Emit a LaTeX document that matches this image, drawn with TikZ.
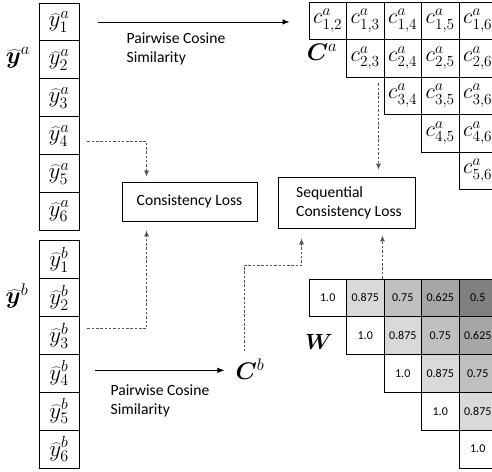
\documentclass[tikz,border=0pt]{standalone}
\usepackage{fix-cm}
\usepackage{bm}
\usepackage{fontspec}
\setmainfont{Carlito}
\usetikzlibrary{calc,arrows.meta}
\definecolor{w0}{HTML}{FFFFFF}
\definecolor{w1}{HTML}{D9D9D9}
\definecolor{w2}{HTML}{BFBFBF}
\definecolor{w3}{HTML}{A6A6A6}
\definecolor{w4}{HTML}{808080}
\definecolor{dashgray}{HTML}{555555}
\newcommand{\wval}[1]{\ifcase#1 1.0\or 0.875\or 0.75\or 0.625\or 0.5\fi}
\begin{document}
\begin{tikzpicture}[x=1pt,y=-1pt,
  ycell/.style={draw,line width=0.9pt,minimum width=40pt,minimum height=37.9pt,inner sep=0pt,font=\fontsize{23}{23}\selectfont},
  ccell/.style={draw,line width=0.9pt,minimum width=37.5pt,minimum height=37.5pt,inner sep=0pt,font=\fontsize{22}{22}\selectfont},
  wcell/.style={draw,line width=0.9pt,minimum width=37.5pt,minimum height=37.8pt,inner sep=0pt,font=\fontsize{12}{12}\selectfont},
  lossbox/.style={draw,line width=0.9pt,inner sep=0pt},
  biglabel/.style={inner sep=1pt,font=\fontsize{24}{24}\selectfont},
  plabel/.style={align=left,inner sep=0pt,anchor=west,font=\fontsize{15.6}{19}\selectfont},
  dasharr/.style={draw=dashgray,line width=0.75pt,dash pattern=on 2.5pt off 1.8pt,-{Latex[length=6pt,width=5pt]}},
  solarr/.style={draw=black,line width=0.8pt,-{Latex[length=7pt,width=5.5pt]}}
]
\useasboundingbox (0,0) rectangle (492,471);
\clip (0,0) rectangle (492,471);
\fill[white] (0,0) rectangle (492,471);

% y^a and y^b columns
\foreach \i in {1,...,6}{
  \node[ycell] (ya\i) at (59,{3+37.9*(\i-0.5)}) {$\widehat{y}^{a}_{\i}$};
  \node[ycell] (yb\i) at (59,{240.7+37.9*(\i-0.5)}) {$\widehat{y}^{b}_{\i}$};
}
\node[biglabel] (lya) at (18,58) {$\bm{\widehat{y}}^{a}$};
\node[biglabel] (lyb) at (17,296) {$\bm{\widehat{y}}^{b}$};

% C^a matrix
\foreach \i in {1,...,5}{
  \pgfmathtruncatemacro\js{\i+1}
  \foreach \j in {\js,...,6}{
    \node[ccell] (ca\i\j) at ({309+37.5*(\j-2)+18.75},{2+37.5*(\i-1)+18.75}) {$c^{a}_{\i,\j}$};
  }
}
\node[biglabel] (Ca) at (322,52) {$\bm{C}^{a}$};

% W matrix
\foreach \r in {1,...,5}{
  \foreach \k in {\r,...,5}{
    \pgfmathtruncatemacro\d{\k-\r}
    \node[wcell,fill=w\d] (w\r\k) at ({309+37.5*(\k-1)+18.75},{279+37.8*(\r-1)+18.9}) {\wval{\d}};
  }
}
\node[biglabel,font=\fontsize{22}{22}\selectfont] (W) at (319,342) {$\bm{W}$};

% C^b label
\node[biglabel] (Cb) at (250,369) {$\bm{C}^{b}$};

% loss boxes
\node[lossbox,minimum width=135pt,minimum height=39pt,font=\fontsize{15.6}{19}\selectfont] (cl) at (189.5,201.5) {Consistency Loss};
\node[lossbox,minimum width=137pt,minimum height=51pt] (seq) at (346.5,202.5) {};
\node[plabel] (seqtxt) at (296,202.5) {Sequential\\Consistency Loss};

% pairwise labels
\node[plabel] (pw1) at (126.5,48.5) {Pairwise Cosine\\Similarity};
\node[plabel] (pw2) at (110.5,401) {Pairwise Cosine\\Similarity};

% solid arrows
\draw[solarr] ($(ya1.east)+(19,0)$) -- ($(ya1.east -| ca12.west)+(-19,0)$);
\coordinate (b0) at ($(yb4.east)+(16,-3)$);
\draw[solarr] (b0) -- ($(b0 -| Cb.west)+(-10,0)$);

% dashed arrows
\draw[dasharr] ($(ya4.east)+(8,6)$) -| ($(cl.north west)+(25,-5)$);
\draw[dasharr] ($(yb3.east)+(8,-7)$) -| ($(cl.south west)+(25,9)$);
\draw[dasharr] ($(b0 -| Cb.center)+(-6,-19)$) |- ($(seq.south west)+(24,37)$) -- ($(seq.south west)+(24,10)$);
\coordinate (t1) at ($(ca23.south east)+(-6,6)$);
\draw[dasharr] (t1) -- ($(t1 |- seq.north)+(0,-7)$);
\coordinate (t2) at ($(w12.north east)+(-2,0)$);
\draw[dasharr] (t2) -- ($(t2 |- seq.south)+(0,7)$);
\end{tikzpicture}
\end{document}
